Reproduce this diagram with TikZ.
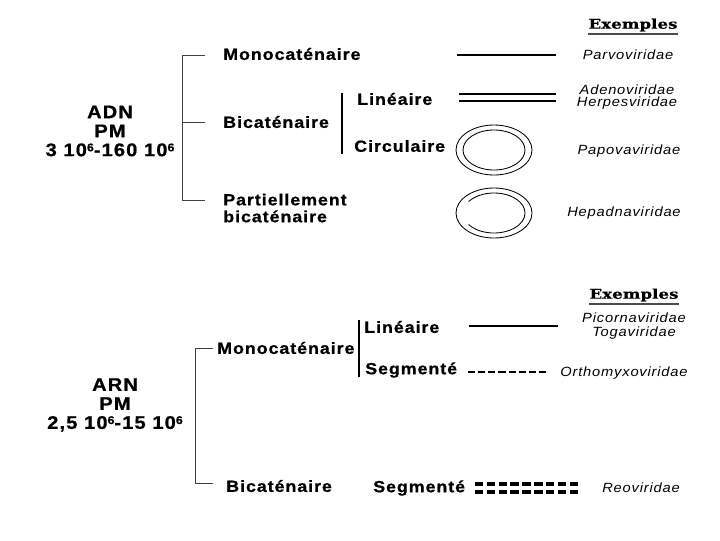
\documentclass[tikz,border=0pt]{standalone}
\usepackage{fontspec}
\setmainfont{Liberation Sans}
\newfontfamily\virfont{Liberation Sans}[FakeStretch=1.1, LetterSpace=6, BoldFeatures={FakeBold=0.8}]
\newfontfamily\exfont{DejaVu Serif}[FakeStretch=1.25, BoldFeatures={FakeBold=0.6}]
\usetikzlibrary{positioning}

% petit exposant pour les puissances de dix
\newcommand{\exposant}[1]{\raisebox{0.5ex}{\fontsize{8}{8}\selectfont #1}}

\begin{document}
\begin{tikzpicture}[x=0.025cm, y=-0.025cm,
    every node/.style={inner sep=0pt},
    root/.style={align=center, font=\virfont\bfseries\fontsize{13}{13.5}\selectfont},
    kind/.style={anchor=west, font=\virfont\bfseries\fontsize{11.5}{12}\selectfont},
    family/.style={align=center, font=\virfont\itshape\fontsize{9.5}{8.5}\selectfont},
    exhead/.style={font=\exfont\bfseries\fontsize{9.5}{10}\selectfont},
    bracket/.style={line width=0.7pt, black!75},
    bar/.style={line width=2pt},
    strand/.style={line width=2pt},
    ring/.style={line width=0.6pt}]

    \useasboundingbox (0,0) rectangle (720,540);

    % ADN (haut)
    \node[root] (adn) at (110,131) {ADN\\PM\\3 10\exposant{6}-160 10\exposant{6}};
    \node[kind] (adnMono) at (223,54) {Monocaténaire};
    \node[kind] (adnBi) at (223,122) {Bicaténaire};
    \node[kind, align=left] (adnPart) at (223,208) {Partiellement\\bicaténaire};
    \node[kind] (adnLin) at (357,99) {Linéaire};
    \node[kind] (adnCirc) at (354,146) {Circulaire};

    % accolade ADN
    \coordinate (adnTop) at (182,55);
    \coordinate (adnBot) at (182,200);
    \draw[bracket] (adnTop) ++(23,0) -- (adnTop) -- (adnBot) -- ++(23,0);
    \draw[bracket] (adnTop |- adnBi) -- ++(23,0);
    \draw[bar] (342,93) -- (342,154);

    % schemas des genomes ADN
    \draw[strand] (457,55) -- (556,55);
    \draw[strand] (459,94) -- (556,94);
    \draw[strand] (459,101) -- (556,101);
    \draw[ring] (494,150) ellipse [x radius=38, y radius=25];
    \draw[ring] (494,150) ellipse [x radius=31, y radius=20];
    \draw[ring] (494,213) ellipse [x radius=38, y radius=25];
    \draw[ring] (494,213) ++(-145:31 and 20) arc [start angle=-145, end angle=145, x radius=31, y radius=20];

    % exemples ADN
    \node[exhead] (exAdn) at (633,25) {Exemples};
    \draw[line width=1.2pt, black!70] ([yshift=-1.5pt]exAdn.south west) -- ([yshift=-1.5pt]exAdn.south east);
    \node[family] (parvo) at (628,55) {Parvoviridae};
    \node[family] (adeno) at (627,97) {Adenoviridae\\Herpesviridae};
    \node[family] (papova) at (629,151) {Papovaviridae};
    \node[family] (hepadna) at (624,213) {Hepadnaviridae};

    % ARN (bas)
    \node[root] (arn) at (115,405) {ARN\\PM\\2,5 10\exposant{6}-15 10\exposant{6}};
    \node[kind] (arnMono) at (217,348) {Monocaténaire};
    \node[kind] (arnBi) at (226,486) {Bicaténaire};
    \node[kind] (arnLin) at (364,327) {Linéaire};
    \node[kind] (arnSeg) at (365,370) {Segmenté};
    \node[kind] (arnBiSeg) at (373,488) {Segmenté};

    % accolade ARN
    \coordinate (arnTop) at (195,348);
    \coordinate (arnBot) at (195,483);
    \draw[bracket] (arnTop) ++(18,0) -- (arnTop) -- (arnBot) -- ++(18,0);
    \draw[bar] (359,320) -- (359,377);

    % schemas des genomes ARN
    \draw[strand] (469,326) -- (558,326);
    \draw[strand, line width=1.6pt, dash pattern=on 5.1pt off 2.1pt] (468,372) -- (547,372);
    \draw[strand, line width=2.3pt, dash pattern=on 6pt off 2.4pt] (475,484) -- (579,484);
    \draw[strand, line width=2.3pt, dash pattern=on 6pt off 2.4pt] (475,492) -- (579,492);

    % exemples ARN
    \node[exhead] (exArn) at (634,295) {Exemples};
    \draw[line width=1.2pt, black!70] ([yshift=-1.5pt]exArn.south west) -- ([yshift=-1.5pt]exArn.south east);
    \node[family, font=\virfont\itshape\fontsize{9.5}{10}\selectfont] (picorna) at (634,326) {Picornaviridae\\Togaviridae};
    \node[family] (ortho) at (624,373) {Orthomyxoviridae};
    \node[family] (reo) at (641,488) {Reoviridae};
\end{tikzpicture}
\end{document}
